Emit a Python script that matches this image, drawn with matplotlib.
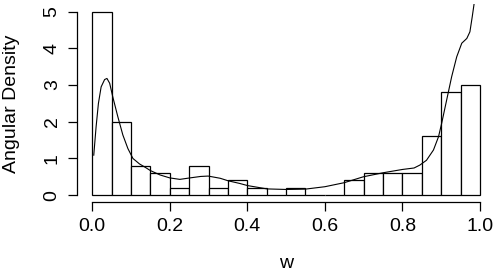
import numpy as np
from matplotlib import pyplot as plt

plt.rcParams['font.family'] = ['Liberation Sans', 'DejaVu Sans']

# histogram of w (density scale), bins of width 0.05
bin_left = np.arange(0, 1, 0.05)
density  = [5.0, 2.0, 0.8, 0.6, 0.2, 0.8, 0.2, 0.4, 0.2, 0.0,
            0.2, 0.0, 0.0, 0.4, 0.6, 0.6, 0.6, 1.6, 2.8, 3.0]

# traced angular density curve
curve_w = [0.004, 0.010, 0.016, 0.023, 0.032, 0.038, 0.045, 0.053, 0.066, 0.079,
           0.092, 0.105, 0.122, 0.135, 0.150, 0.175, 0.2, 0.226, 0.252, 0.28,
           0.299, 0.33, 0.351, 0.38, 0.401, 0.451, 0.501, 0.55, 0.6, 0.65,
           0.699, 0.75, 0.80, 0.83, 0.845, 0.862, 0.88, 0.893, 0.901, 0.914,
           0.927, 0.94, 0.953, 0.966, 0.974, 0.98, 0.985, 0.992]
curve_d = [1.09, 1.86, 2.5, 2.95, 3.15, 3.18, 3.05, 2.68, 2.14, 1.64,
           1.27, 1.0, 0.85, 0.77, 0.67, 0.55, 0.47, 0.43, 0.47, 0.51,
           0.52, 0.46, 0.39, 0.32, 0.26, 0.17, 0.155, 0.165, 0.23, 0.34,
           0.5, 0.61, 0.70, 0.74, 0.82, 0.95, 1.23, 1.59, 1.95, 2.59,
           3.23, 3.77, 4.14, 4.27, 4.45, 4.86, 5.23, 5.8]

fig = plt.figure(figsize=(5, 2.8), dpi=100)
ax  = fig.add_axes([0.1534, 0.2768, 0.991 - 0.1534, 0.9846 - 0.2768])

ax.bar(bin_left, density, width=0.05, align='edge',
       facecolor='white', edgecolor='black', linewidth=0.9)
ax.plot(curve_w, curve_d, color='black', linewidth=0.8)

ax.set_xlim(-0.04, 1.04)
ax.set_ylim(-0.2, 5.2)

for side in ['top', 'right']:
	ax.spines[side].set_visible(False)
ax.spines['bottom'].set_bounds(0, 1)
ax.spines['left'  ].set_bounds(0, 5)
ax.spines['bottom'].set_linewidth(0.9)
ax.spines['left'  ].set_linewidth(0.9)

ax.set_xticks([0, 0.2, 0.4, 0.6, 0.8, 1.0])
ax.set_xticklabels(['0.0', '0.2', '0.4', '0.6', '0.8', '1.0'])
ax.set_yticks(range(6))
ax.tick_params(axis='both', length=6.5, width=0.9, labelsize=14, pad=5)
for lab in ax.get_yticklabels():
	lab.set_rotation(90)
	lab.set_va('center')

ax.set_xlabel('w', fontsize=14, va='center')
ax.set_ylabel('Angular Density', fontsize=14, va='center')
ax.xaxis.set_label_coords(0.5, -0.306)
ax.yaxis.set_label_coords(-0.155, 0.5)

fig.savefig('out.png', dpi=100)
